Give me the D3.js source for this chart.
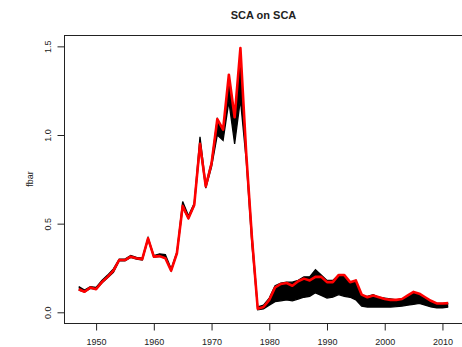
<!DOCTYPE html>
<html>
<head>
<meta charset="utf-8">
<script src="https://cdn.jsdelivr.net/npm/d3@7"></script>
<style>
html,body{margin:0;padding:0;background:#fff;}
svg{display:block;font-family:"Liberation Sans",Arial,sans-serif;}
</style>
</head>
<body>
<svg id="chart" width="462" height="347"></svg>
<script>
const years = [1947,1948,1949,1950,1951,1952,1953,1954,1955,1956,1957,1958,1959,1960,1961,1962,1963,1964,1965,1966,1967,1968,1969,1970,1971,1972,1973,1974,1975,1976,1977,1978,1979,1980,1981,1982,1983,1984,1985,1986,1987,1988,1989,1990,1991,1992,1993,1994,1995,1996,1997,1998,1999,2000,2001,2002,2003,2004,2005,2006,2007,2008,2009,2010,2011];
// red series (assessment fbar)
const fbar = [0.13,0.116,0.14,0.13,0.17,0.20,0.235,0.295,0.295,0.314,0.305,0.30,0.417,0.314,0.317,0.305,0.235,0.333,0.60,0.53,0.605,0.95,0.71,0.84,1.09,1.03,1.34,1.10,1.49,0.90,0.42,0.02,0.03,0.07,0.14,0.16,0.165,0.15,0.175,0.19,0.18,0.20,0.20,0.17,0.17,0.21,0.21,0.17,0.18,0.10,0.085,0.095,0.085,0.075,0.07,0.07,0.075,0.095,0.115,0.105,0.085,0.065,0.05,0.05,0.052];
// black iteration envelope
const iterLow = [0.125,0.115,0.135,0.13,0.165,0.195,0.225,0.29,0.29,0.31,0.30,0.295,0.41,0.31,0.315,0.305,0.235,0.33,0.59,0.53,0.60,0.93,0.70,0.82,1.00,0.97,1.19,0.95,1.20,0.86,0.38,0.015,0.02,0.04,0.06,0.065,0.07,0.065,0.075,0.085,0.09,0.11,0.095,0.08,0.085,0.10,0.09,0.085,0.07,0.035,0.03,0.03,0.03,0.03,0.03,0.032,0.035,0.04,0.045,0.05,0.04,0.03,0.025,0.025,0.03];
const iterHigh = [0.145,0.125,0.145,0.14,0.18,0.21,0.245,0.30,0.30,0.32,0.31,0.305,0.42,0.32,0.33,0.325,0.245,0.34,0.625,0.545,0.615,0.99,0.72,0.85,1.09,1.02,1.30,1.07,1.45,0.90,0.44,0.03,0.04,0.08,0.15,0.165,0.17,0.17,0.18,0.20,0.20,0.24,0.21,0.18,0.18,0.21,0.21,0.165,0.18,0.09,0.09,0.10,0.085,0.08,0.075,0.07,0.075,0.09,0.11,0.10,0.08,0.06,0.05,0.05,0.05];
const xTicks = [1950,1960,1970,1980,1990,2000,2010];
const yTicks = [0.0,0.5,1.0,1.5];
const titleText = "SCA on SCA";
const yLabel = "fbar";

const svg = d3.select("#chart");
const L = 64, R = 463, T = 35, B = 323;
const x = d3.scaleLinear().domain([1944.44, 2013.56]).range([L, R]);
const y = d3.scaleLinear().domain([-0.0603, 1.564]).range([B, T]);

const rows = years.map((yr,i)=>({yr, f:fbar[i], lo:iterLow[i], hi:iterHigh[i]}));

const plot = svg.append("g");
plot.append("path").datum(rows)
  .attr("d", d3.area().x(d=>x(d.yr)).y0(d=>y(d.lo)).y1(d=>y(d.hi)))
  .attr("fill","#000");
plot.append("path").datum(rows)
  .attr("d", d3.line().x(d=>x(d.yr)).y(d=>y(d.hi)))
  .attr("fill","none").attr("stroke","#000").attr("stroke-width",1.3);
plot.append("path").datum(rows)
  .attr("d", d3.line().x(d=>x(d.yr)).y(d=>y(d.lo)))
  .attr("fill","none").attr("stroke","#000").attr("stroke-width",1.3);
plot.append("path").datum(rows)
  .attr("d", d3.line().x(d=>x(d.yr)).y(d=>y(d.f)))
  .attr("fill","none").attr("stroke","#ff0000").attr("stroke-width",2.6)
  .attr("stroke-linejoin","round");

// box
svg.append("rect").attr("x",L+0.5).attr("y",T+0.5).attr("width",R-L).attr("height",B-T)
  .attr("fill","none").attr("stroke","#222").attr("stroke-width",1);

// x axis
const xa = svg.append("g").attr("transform",`translate(0,${B+0.5})`)
  .call(d3.axisBottom(x).tickValues(xTicks).tickSize(7).tickFormat(d3.format("d")));
xa.select(".domain").remove();
xa.selectAll("line").attr("stroke","#222");
xa.selectAll("text").attr("font-size",9).attr("fill","#222").attr("dy",0).attr("y",21)
  .attr("font-family","Liberation Sans, Arial, sans-serif");

// y axis
const ya = svg.append("g").attr("transform",`translate(${L+0.5},0)`)
  .call(d3.axisLeft(y).tickValues(yTicks).tickSize(7).tickFormat(d3.format(".1f")));
ya.select(".domain").remove();
ya.selectAll("line").attr("stroke","#222");
ya.selectAll("text").attr("font-size",9).attr("fill","#222")
  .attr("x",null).attr("dy",0)
  .attr("font-family","Liberation Sans, Arial, sans-serif")
  .attr("text-anchor","middle")
  .attr("transform","translate(-13.5,0) rotate(-90)");

// title
svg.append("text").attr("x",(L+R)/2).attr("y",19).attr("text-anchor","middle")
  .attr("font-size",11).attr("font-weight","bold").attr("fill","#222").text(titleText);
// y label
svg.append("text").attr("transform",`translate(33,179) rotate(-90)`).attr("text-anchor","middle")
  .attr("font-size",9).attr("fill","#222").text(yLabel);
</script>
</body>
</html>
